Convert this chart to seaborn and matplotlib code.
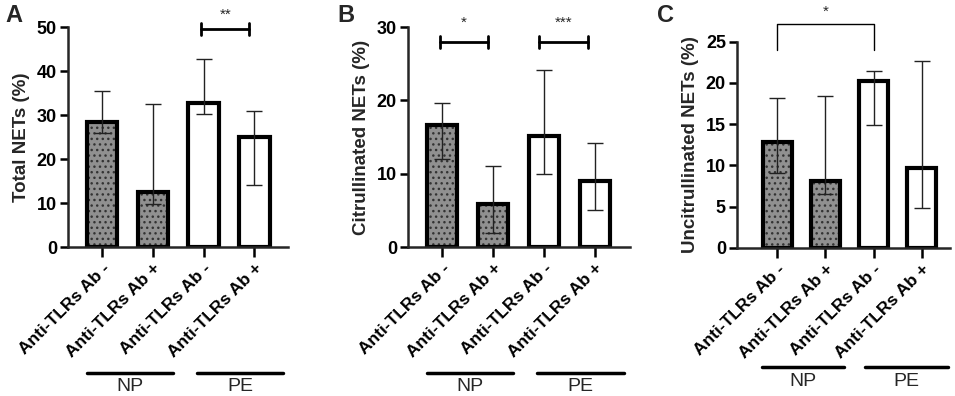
import pandas as pd
import numpy as np
import matplotlib
matplotlib.use("Agg")
import matplotlib.pyplot as plt
import seaborn as sns

# categories and groups
groups = ['Anti-TLRs Ab -', 'Anti-TLRs Ab +', 'Anti-TLRs Ab - ', 'Anti-TLRs Ab + ']
tick_labels = ['Anti-TLRs Ab -', 'Anti-TLRs Ab +', 'Anti-TLRs Ab -', 'Anti-TLRs Ab +']
cohorts = ['NP', 'NP', 'PE', 'PE']

# values (median with lower / upper whiskers)
total_med = [28.3, 12.5, 32.7, 25.0]
total_lo = [26.0, 9.7, 30.2, 14.1]
total_hi = [35.5, 32.5, 42.8, 31.0]

citr_med = [16.7, 5.9, 15.2, 9.0]
citr_lo = [12.0, 1.9, 10.0, 5.0]
citr_hi = [19.7, 11.1, 24.2, 14.2]

uncitr_med = [12.8, 8.1, 20.2, 9.7]
uncitr_lo = [9.1, 6.5, 14.9, 4.8]
uncitr_hi = [18.2, 18.4, 21.5, 22.7]

sns.set_style("ticks")
plt.rcParams['font.family'] = ['Liberation Sans', 'DejaVu Sans']
plt.rcParams['hatch.linewidth'] = 1.0

fig = plt.figure(figsize=(9.55, 3.96), dpi=100)
W, H = 955, 396

def axes_px(left, right, top, bottom):
    return fig.add_axes([left / W, 1 - bottom / H, (right - left) / W, (bottom - top) / H])

ax_a = axes_px(68, 288, 27, 247)
ax_b = axes_px(408, 630, 27, 247)
ax_c = axes_px(737, 950, 41.7, 248)

panels = [
    (ax_a, 'Total NETs (%)', total_med, total_lo, total_hi, 50, 10, (-0.67, 3.66)),
    (ax_b, 'Citrullinated NETs (%)', citr_med, citr_lo, citr_hi, 30, 10, (-0.67, 3.69)),
    (ax_c, 'Uncitrullinated NETs (%)', uncitr_med, uncitr_lo, uncitr_hi, 25, 5, (-0.83, 3.58)),
]

fills = ['#909090', '#909090', 'white', 'white']

for ax, ylabel, med, lo, hi, ymax, step, xlim in panels:
    df = pd.DataFrame({'group': groups, 'value': med, 'cohort': cohorts})
    # dotted fill
    sns.barplot(data=df, x='group', y='value', hue='group', palette=fills,
                width=0.6, edgecolor='#333333', linewidth=0, legend=False, ax=ax)
    for p, f in zip(ax.patches, fills):
        if f != 'white':
            p.set_hatch('...')
    # thick outline
    sns.barplot(data=df, x='group', y='value', width=0.6, fill=False,
                color='black', linewidth=3, ax=ax)
    x = np.arange(len(groups))
    med_a = np.array(med)
    ax.errorbar(x, med_a, yerr=[med_a - np.array(lo), np.array(hi) - med_a],
                fmt='none', ecolor='#222222', elinewidth=1, capsize=6, capthick=1, zorder=5)
    ax.set_ylim(0, ymax)
    ax.set_yticks(np.arange(0, ymax + 0.1, step))
    ax.set_xlim(*xlim)
    ax.set_xticks(x)
    ax.set_xticklabels(tick_labels, rotation=45, ha='right', rotation_mode='anchor',
                       fontsize=12.5, fontweight='bold')
    for t in ax.get_yticklabels():
        t.set_fontweight('bold')
        t.set_fontsize(13)
    ax.set_xlabel('')
    ax.set_ylabel(ylabel, fontsize=13.5, fontweight='bold', labelpad=5)
    sns.despine(ax=ax)
    for s in ['left', 'bottom']:
        ax.spines[s].set_linewidth(1.8)
    ax.tick_params(axis='both', width=1.8, length=6, pad=2, colors='black')
    ax.tick_params(axis='x', length=7, pad=3)

# panel letters
for px, letter in [(14, 'A'), (346, 'B'), (665, 'C')]:
    fig.text(px / W, 1 - 15 / H, letter, fontsize=17, fontweight='bold', ha='center', va='center')

# group lines below the x labels
grp = [(ax_a, -0.3, 1.4, 1.87, 3.56, -0.573, -0.634),
       (ax_b, -0.29, 1.39, 1.86, 3.57, -0.573, -0.634),
       (ax_c, -0.31, 1.39, 1.82, 3.54, -0.578, -0.649)]
for ax, a0, a1, b0, b1, yl, yt in grp:
    tr = ax.get_xaxis_transform()
    for (s, e), name in [((a0, a1), 'NP'), ((b0, b1), 'PE')]:
        ax.plot([s, e], [yl, yl], color='black', lw=2.5, transform=tr, clip_on=False)
        ax.text((s + e) / 2, yt, name, transform=tr, ha='center', va='center', fontsize=14)

# significance brackets
def ibeam(ax, x0, x1, y, h, star, ty):
    ax.plot([x0, x1], [y, y], color='black', lw=2, clip_on=False)
    for xx in (x0, x1):
        ax.plot([xx, xx], [y - h, y + h], color='black', lw=2, clip_on=False)
    ax.text((x0 + x1) / 2, ty, star, ha='center', va='center', fontsize=11)

ibeam(ax_a, 1.95, 2.9, 49.5, 1.3, '**', 52.8)
ibeam(ax_b, -0.04, 0.9, 28.0, 0.8, '*', 30.6)
ibeam(ax_b, 1.9, 2.86, 28.0, 0.8, '***', 30.6)

ax_c.plot([0, 0, 2, 2], [24.0, 27.1, 27.1, 24.0], color='black', lw=1, clip_on=False)
ax_c.text(1, 28.6, '*', ha='center', va='center', fontsize=11)

fig.savefig('out.png', dpi=100)
